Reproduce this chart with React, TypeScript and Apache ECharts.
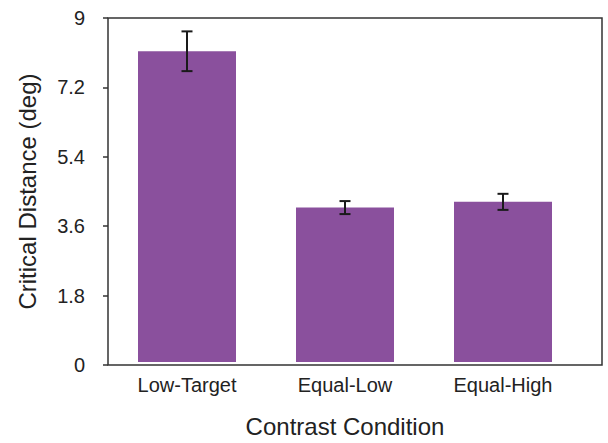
import React, { useEffect, useRef } from "react";
import * as echarts from "echarts";

const categories = ["Low-Target", "Equal-Low", "Equal-High"];
const means = [8.13, 4.04, 4.19];
const errors = [0.52, 0.17, 0.21];
const yTicks = [0, 1.8, 3.6, 5.4, 7.2, 9];

const FONT = "'Liberation Sans', Arial, Helvetica, sans-serif";
const TEXT = "#222";

export default function App() {
  const ref = useRef<HTMLDivElement>(null);
  useEffect(() => {
    if (!ref.current) return;
    const chart = echarts.init(ref.current, null, { renderer: "svg" });
    const errData = means.map((m, i) => [i, m - errors[i], m + errors[i]]);
    chart.setOption({
      animation: false,
      backgroundColor: "#fff",
      grid: [
        { left: 108, right: 6, top: 18, bottom: 78, show: true, borderColor: "#333", borderWidth: 1.5, backgroundColor: "transparent" },
        { left: 108, width: 474, top: 18, bottom: 78 },
      ],
      xAxis: [
        { type: "value", gridIndex: 0, show: false, min: 0, max: 1 },
        {
          type: "category",
          gridIndex: 1,
          data: categories,
          axisLine: { show: false },
          axisTick: { show: false },
          axisLabel: { color: TEXT, fontSize: 20, fontFamily: FONT, margin: 13 },
          name: "Contrast Condition",
          nameLocation: "middle",
          nameGap: 52,
          nameTextStyle: { color: TEXT, fontSize: 24, fontFamily: FONT },
        },
      ],
      yAxis: [
        {
          type: "value",
          gridIndex: 0,
          min: 0,
          max: 9,
          interval: 1.8,
          axisLine: { show: false },
          axisTick: { show: true, inside: false, length: 5, lineStyle: { color: "#333", width: 1.5 } },
          splitLine: { show: false },
          axisLabel: {
            color: TEXT,
            fontSize: 20,
            fontFamily: FONT,
            margin: 23,
            formatter: (v: number) => {
              const t = yTicks.find((x) => Math.abs(x - v) < 1e-6);
              return t === undefined ? "" : String(t);
            },
          },
          name: "Critical Distance (deg)",
          nameLocation: "middle",
          nameGap: 69,
          nameRotate: 90,
          nameTextStyle: { color: TEXT, fontSize: 24, fontFamily: FONT },
        },
        { type: "value", gridIndex: 1, min: 0, max: 9, show: false },
      ],
      series: [
        {
          type: "bar",
          xAxisIndex: 1,
          yAxisIndex: 1,
          data: means,
          barWidth: 98,
          itemStyle: { color: "#8A509D" },
        },
        {
          type: "custom",
          xAxisIndex: 1,
          yAxisIndex: 1,
          data: errData,
          z: 10,
          renderItem: (params: any, api: any) => {
            const x = api.value(0);
            const lo = api.coord([x, api.value(1)]);
            const hi = api.coord([x, api.value(2)]);
            const cap = 5.5;
            const style = { stroke: "#1a1a1a", lineWidth: 2 };
            return {
              type: "group",
              children: [
                { type: "line", shape: { x1: lo[0], y1: lo[1], x2: hi[0], y2: hi[1] }, style },
                { type: "line", shape: { x1: hi[0] - cap, y1: hi[1], x2: hi[0] + cap, y2: hi[1] }, style },
                { type: "line", shape: { x1: lo[0] - cap, y1: lo[1], x2: lo[0] + cap, y2: lo[1] }, style },
              ],
            };
          },
        },
      ],
    });
    return () => chart.dispose();
  }, []);
  return <div ref={ref} style={{ width: 608, height: 443, position: "absolute", left: 0, top: 0 }} />;
}
